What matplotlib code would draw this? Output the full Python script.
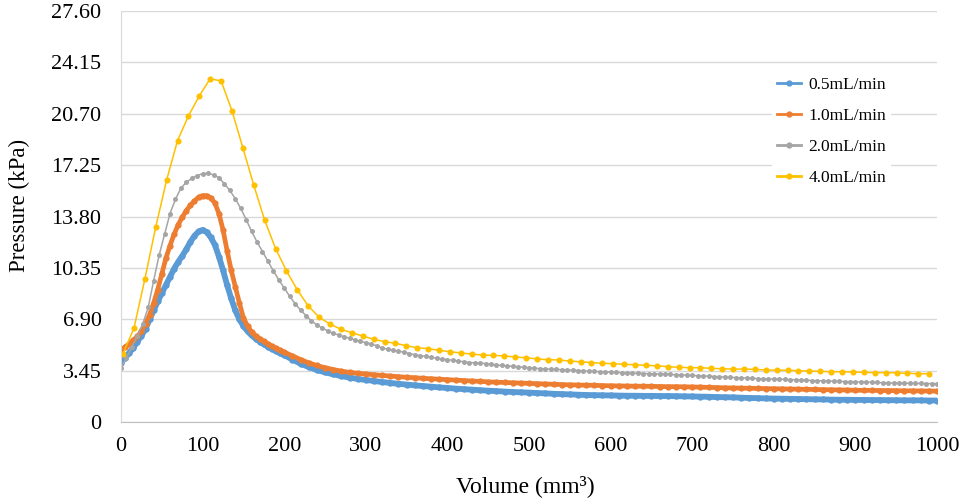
import numpy as np
import matplotlib
matplotlib.use('Agg')
import matplotlib.pyplot as plt
from matplotlib.lines import Line2D

plt.rcParams['font.family'] = ['Liberation Serif', 'DejaVu Serif']

# x positions (mm^3)
x_fine = list(range(0, 201, 5)) + list(range(210, 1001, 10))
x_gray = [i * 1000 / 150 for i in range(151)]
x_yellow = [2.5 + i * 13.35 for i in range(75)]

# 0.5 mL/min
p_05 = [4.0, 4.3, 4.65, 4.98, 5.4, 5.8, 6.25, 6.9, 7.5, 8.1,
        8.65, 9.2, 9.75, 10.3, 10.75, 11.15, 11.6, 12.1, 12.5, 12.8,
        12.9, 12.75, 12.4, 11.9, 11.1, 10.2, 9.2, 8.3, 7.5, 6.9,
        6.45, 6.1, 5.82, 5.6, 5.4, 5.22, 5.06, 4.9, 4.76, 4.62,
        4.5,
        4.2, 3.92, 3.7, 3.5, 3.34, 3.21, 3.09, 2.99, 2.9, 2.83,
        2.76, 2.69, 2.63, 2.57, 2.52, 2.47, 2.42, 2.38, 2.33, 2.29,
        2.25, 2.21, 2.18, 2.14, 2.11, 2.08, 2.05, 2.02, 2.0, 1.98,
        1.95, 1.93, 1.9, 1.88, 1.86, 1.84, 1.82, 1.81, 1.8, 1.79,
        1.78, 1.77, 1.77, 1.76, 1.76, 1.75, 1.75, 1.74, 1.73, 1.72,
        1.71, 1.70, 1.68, 1.67, 1.66, 1.64, 1.62, 1.61, 1.59, 1.58,
        1.57, 1.56, 1.55, 1.54, 1.53, 1.52, 1.51, 1.5, 1.5, 1.49,
        1.49, 1.48, 1.48, 1.47, 1.47, 1.46, 1.46, 1.46, 1.45, 1.45]

# 1.0 mL/min
p_10 = [4.85, 5.05, 5.25, 5.5, 5.75, 6.1, 6.6, 7.2, 8.0, 8.9,
        9.95, 11.0, 11.85, 12.6, 13.25, 13.75, 14.2, 14.55, 14.85, 15.1,
        15.2, 15.2, 15.05, 14.7, 14.0, 12.9, 11.5, 10.2, 9.1, 8.0,
        7.0, 6.45, 6.05, 5.8, 5.6, 5.42, 5.26, 5.1, 4.96, 4.82,
        4.7,
        4.45, 4.2, 3.98, 3.8, 3.65, 3.53, 3.42, 3.34, 3.28, 3.23,
        3.18, 3.13, 3.09, 3.05, 3.01, 2.98, 2.94, 2.91, 2.88, 2.85,
        2.82, 2.79, 2.76, 2.73, 2.7, 2.68, 2.66, 2.64, 2.62, 2.6,
        2.58, 2.56, 2.54, 2.52, 2.5, 2.49, 2.48, 2.47, 2.45, 2.44,
        2.43, 2.42, 2.41, 2.41, 2.40, 2.39, 2.38, 2.38, 2.37, 2.36,
        2.35, 2.33, 2.32, 2.3, 2.29, 2.28, 2.27, 2.26, 2.25, 2.24,
        2.23, 2.22, 2.21, 2.2, 2.19, 2.18, 2.17, 2.16, 2.15, 2.14,
        2.13, 2.13, 2.12, 2.12, 2.11, 2.1, 2.1, 2.09, 2.09, 2.08]

# 2.0 mL/min
p_20 = [3.65, 4.3, 5.05, 5.8, 6.6, 7.7, 9.5, 11.2, 12.6, 14.0,
        14.95, 15.7, 16.1, 16.36, 16.55, 16.68, 16.7, 16.6, 16.4, 16.0,
        15.55, 15.0, 14.35, 13.6, 12.8, 12.1, 11.45, 10.8, 10.15, 9.55,
        9.0, 8.45, 7.95, 7.52, 7.15, 6.8, 6.52, 6.32, 6.12, 5.96,
        5.85, 5.74, 5.63, 5.52, 5.42, 5.33, 5.25, 5.12, 4.98, 4.9,
        4.82, 4.75, 4.7, 4.6, 4.52, 4.46, 4.41, 4.35, 4.29, 4.24,
        4.19, 4.15, 4.1, 4.05, 4.0, 3.98, 3.96, 3.93, 3.88, 3.84,
        3.8, 3.77, 3.74, 3.71, 3.68, 3.65, 3.61, 3.59, 3.57, 3.55,
        3.54, 3.52, 3.5, 3.48, 3.46, 3.44, 3.42, 3.4, 3.38, 3.37,
        3.35, 3.33, 3.32, 3.3, 3.29, 3.28, 3.26, 3.25, 3.24, 3.23,
        3.22, 3.2, 3.18, 3.16, 3.15, 3.13, 3.11, 3.1, 3.08, 3.06,
        3.04, 3.02, 3.0, 2.99, 2.97, 2.95, 2.94, 2.92, 2.91, 2.9,
        2.89, 2.88, 2.87, 2.85, 2.84, 2.82, 2.81, 2.79, 2.78, 2.77,
        2.76, 2.75, 2.73, 2.72, 2.71, 2.7, 2.69, 2.68, 2.67, 2.66,
        2.64, 2.63, 2.62, 2.62, 2.61, 2.61, 2.6, 2.6, 2.59, 2.59,
        2.58]

# 4.0 mL/min
p_40 = [4.6, 6.3, 9.6, 13.1, 16.25, 18.9, 20.55, 21.9, 23.05, 22.9,
        20.9, 18.4, 15.9, 13.55, 11.65, 10.15, 8.87, 7.8, 7.03, 6.58,
        6.23, 6.0, 5.78, 5.56, 5.40, 5.29, 5.13, 4.99, 4.93, 4.82,
        4.73, 4.64, 4.57, 4.50, 4.48, 4.44, 4.37, 4.32, 4.24, 4.19,
        4.17, 4.10, 4.05, 3.99, 3.95, 3.92, 3.88, 3.85, 3.81, 3.78,
        3.72, 3.68, 3.65, 3.65, 3.61, 3.58, 3.56, 3.56, 3.54, 3.50,
        3.48, 3.48, 3.45, 3.43, 3.41, 3.38, 3.38, 3.36, 3.34, 3.32,
        3.32, 3.30, 3.28, 3.25, 3.25]

labels = ['0.5mL/min', '1.0mL/min', '2.0mL/min', '4.0mL/min']
colors = ['#5B9BD5', '#ED7D31', '#A5A5A5', '#FFC000']
yticks = [0, 3.45, 6.90, 10.35, 13.80, 17.25, 20.70, 24.15, 27.60]
ytick_labels = ['0'] + ['%.2f' % v for v in yticks[1:]]
xticks = list(range(0, 1001, 100))

fig = plt.figure(figsize=(9.69, 4.98), dpi=100)
ax = fig.add_axes([0.1249, 0.1524, 0.967 - 0.1249, 0.978 - 0.1524])

ax.plot(x_fine, p_05, '-o', color=colors[0], lw=4.2, ms=4.6, mew=0)
ax.plot(x_fine, p_10, '-o', color=colors[1], lw=3.4, ms=4.5, mew=0)
ax.plot(x_gray, p_20, '-o', color=colors[2], lw=1.1, ms=3.6, mew=0)
ax.plot(x_yellow, p_40, '-o', color=colors[3], lw=1.1, ms=4.4, mew=0)

ax.set_xlim(0, 1000)
ax.set_ylim(0, 27.60)
ax.set_yticks(yticks)
ax.set_yticklabels(ytick_labels)
ax.set_xticks(xticks)
ax.tick_params(axis='both', length=0, labelsize=16)
ax.tick_params(axis='y', pad=14)
ax.tick_params(axis='x', pad=11)
ax.grid(axis='y', color='#D9D9D9', lw=1)
ax.set_axisbelow(True)
for s in ['top', 'right']:
    ax.spines[s].set_visible(False)
ax.spines['left'].set_color('#D9D9D9')
ax.spines['bottom'].set_color('#BFBFBF')

ax.set_xlabel('Volume (mm³)', fontsize=17)
ax.set_ylabel('Pressure (kPa)', fontsize=16.5)
ax.xaxis.set_label_coords(0.495, -0.128)
ax.yaxis.set_label_coords(-0.112, 0.526)

handles = [Line2D([], [], color=c, lw=2, marker='o', ms=3.5) for c in colors]
leg = ax.legend(handles, labels, loc='upper left', bbox_to_anchor=(763 / 969, 1 - 63 / 498),
                bbox_transform=fig.transFigure, fontsize=12.5, frameon=True,
                facecolor='white', edgecolor='none', framealpha=1,
                handlelength=1.4, handletextpad=0.4, labelspacing=0.85, borderpad=0.3)

fig.savefig('out.png', dpi=100)
